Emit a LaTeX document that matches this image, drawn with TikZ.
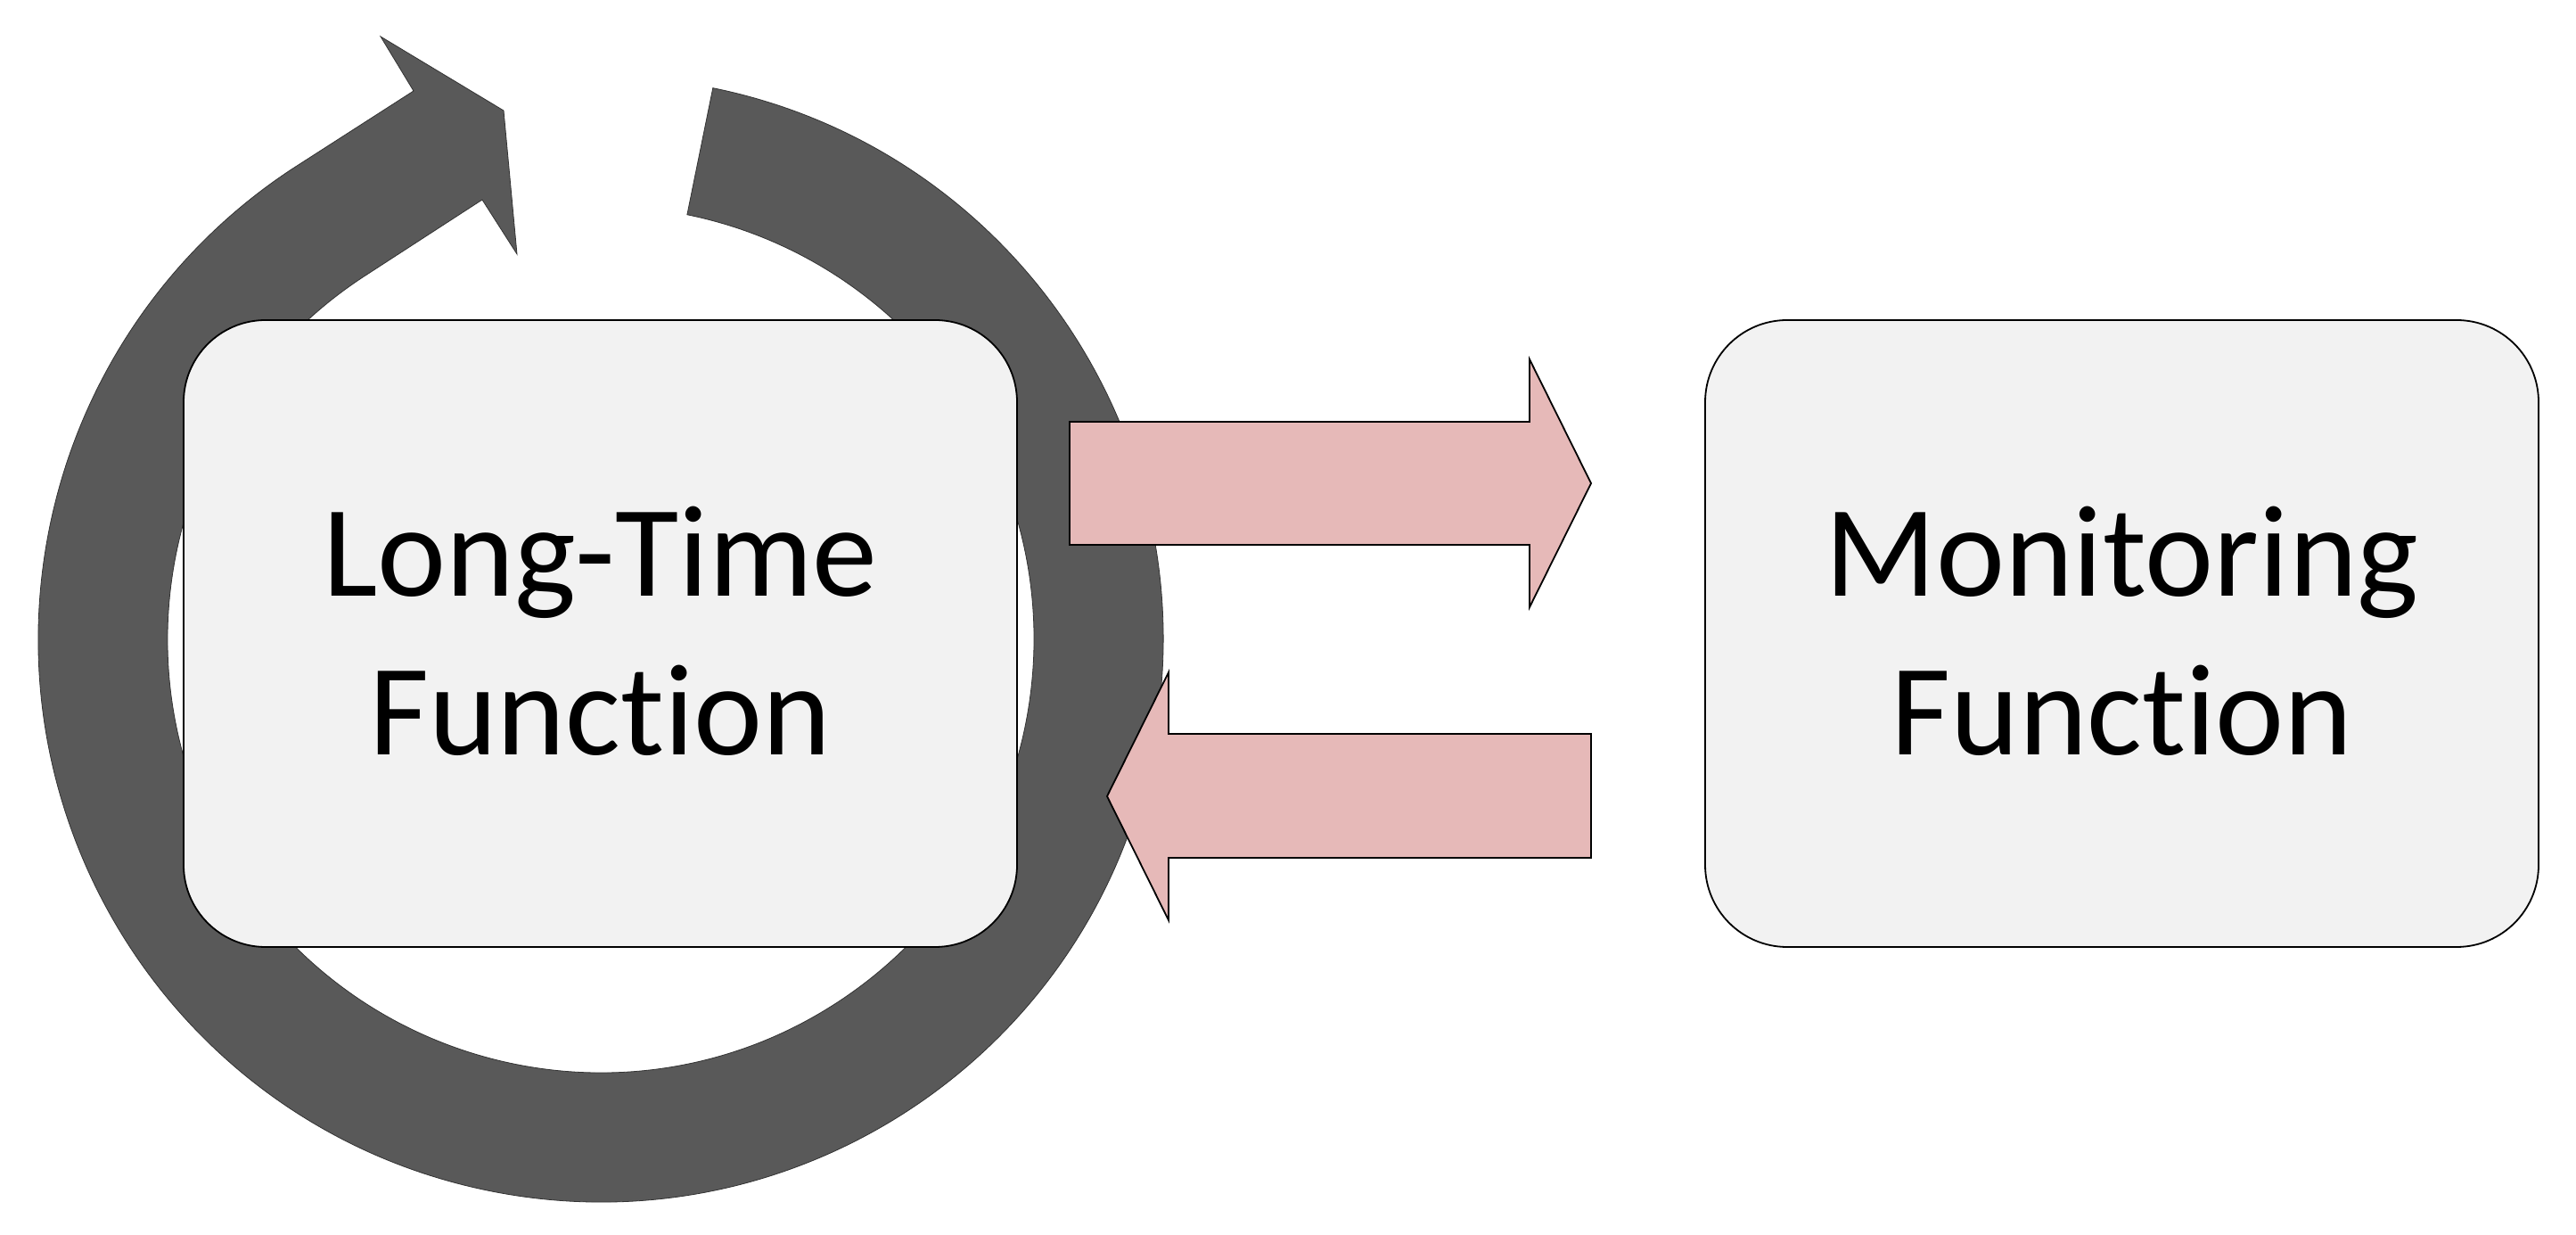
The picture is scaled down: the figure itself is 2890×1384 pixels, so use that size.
\documentclass[tikz,border=0pt]{standalone}
\usepackage{fontspec}
\setmainfont{Carlito}[Ligatures=NoCommon]
\definecolor{ringgray}{HTML}{595959}
\definecolor{pinkfill}{HTML}{E6B9B8}
\definecolor{boxfill}{HTML}{F2F2F2}
\begin{document}
\begin{tikzpicture}[x=1pt,y=1pt,
  ring/.style={fill=ringgray,draw=black!80,line width=0.8pt,line join=miter},
  fnbox/.style={draw=black,line width=1.8pt,fill=boxfill,rounded corners=92pt,
    minimum width=935pt,minimum height=703pt,inner sep=0pt},
  fnlabel/.style={align=center,inner sep=0pt,font=\fontsize{146}{178}\selectfont},
  blockarrow/.style={fill=pinkfill,draw=black,line width=1.8pt,line join=miter}]
\useasboundingbox (0,0) rectangle (2890,1384);
\fill[white] (0,0) rectangle (2890,1384);

% circular arrow
\coordinate (C) at (674,667);
\coordinate (n1) at (464,1282);
\coordinate (b1) at (427,1343);
\coordinate (tp) at (565,1260);
\coordinate (b2) at (580,1099);
\coordinate (n2) at (541,1160);
\draw[ring] ([shift={(78.5:631)}]C) arc[start angle=78.5,end angle=-237,radius=631]
  -- (n1) -- (b1) -- (tp) -- (b2) -- (n2)
  -- ([shift={(123:486)}]C) arc[start angle=123,end angle=438.5,radius=486] -- cycle;

% boxes
\node[fnbox] (lt) at (673.5,673.5) {};
\node[fnlabel] (ltt) at ([yshift=3pt]lt.center) {Long-Time\\Function};
\node[fnbox] (mf) at (2380.5,673.5) {};
\node[fnlabel] (mft) at ([yshift=3pt]mf.center) {Monitoring\\Function};

% block arrows
\coordinate (ra) at (1200,842);
\coordinate (la) at (1785,491);
\draw[blockarrow] (ra) |- ++(0,69) -| (1716,981) -- (1785,842) -- (1716,703) |- (1716,773) -| (ra) -- cycle;
\draw[blockarrow] (la) -- (1785,561) -- (1311,561) -- (1311,630) -- (1242,491)
  -- (1311,352) -- (1311,422) -- (1785,422) -- cycle;
\end{tikzpicture}
\end{document}
